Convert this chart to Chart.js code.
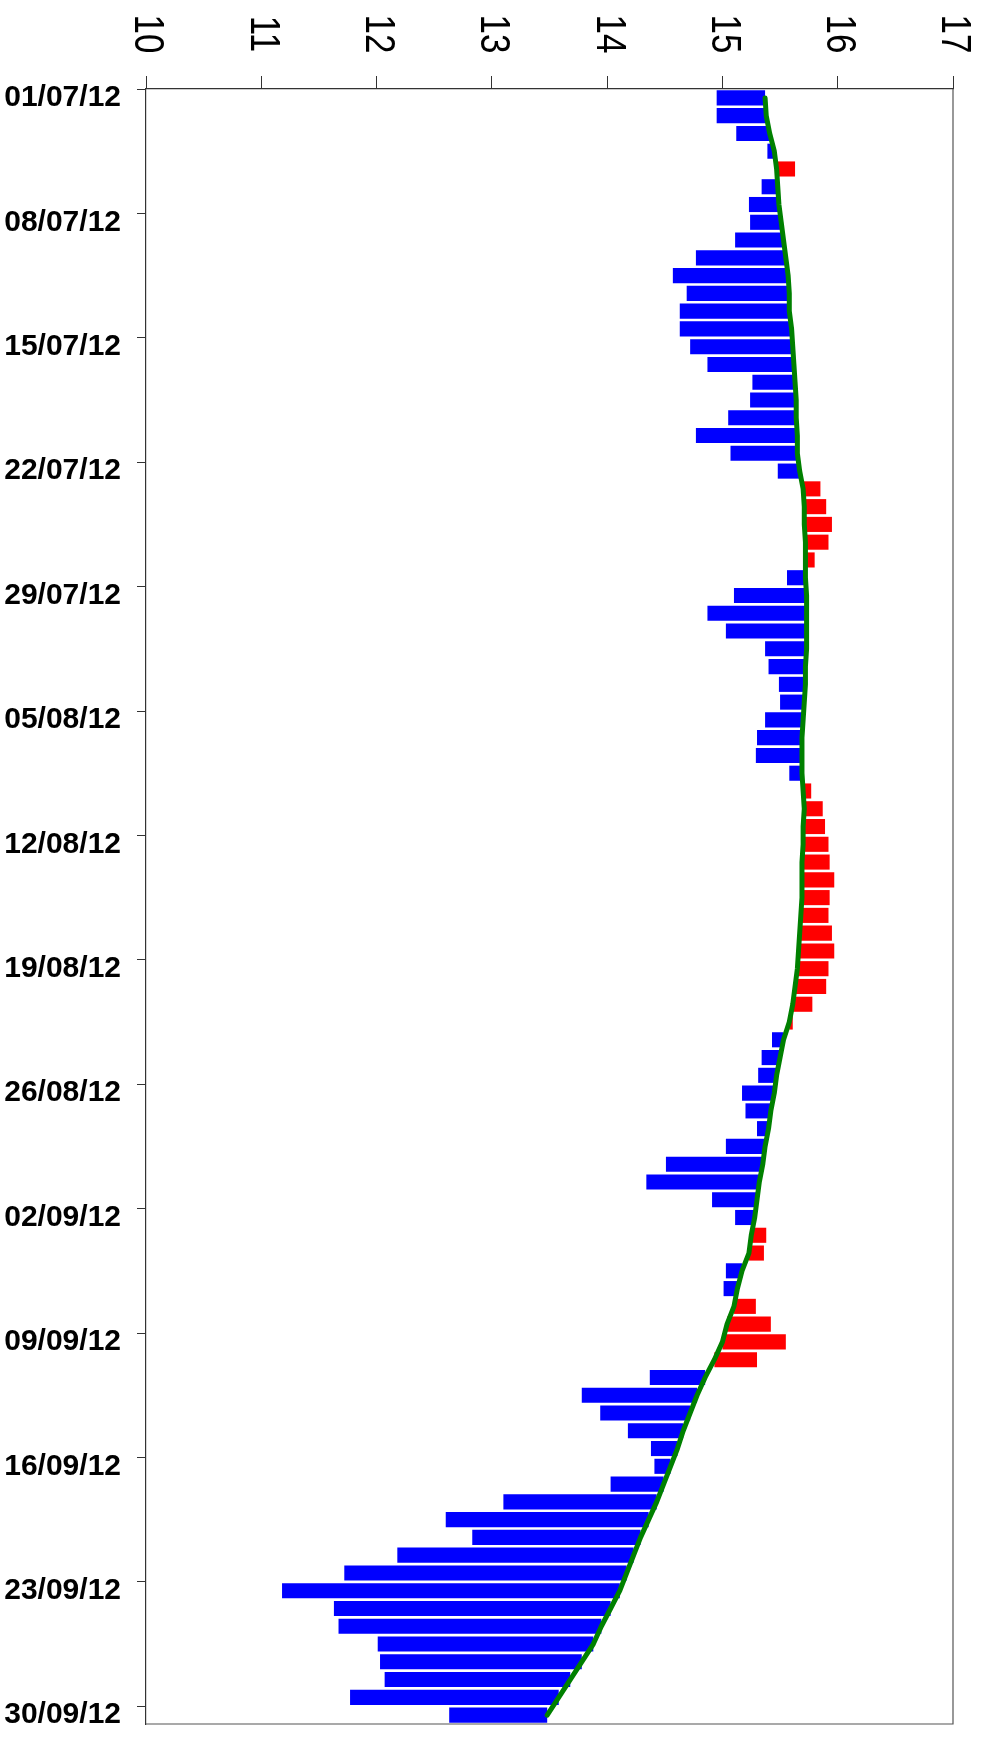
<!DOCTYPE html>
<html>
<head>
<meta charset="utf-8">
<script src="https://cdn.jsdelivr.net/npm/chart.js@4.4.1/dist/chart.umd.min.js"></script>
<style>
  html, body { margin: 0; padding: 0; background: #ffffff; }
  #wrap { width: 982px; height: 1758px; position: relative; }
</style>
</head>
<body>
<div id="wrap"><canvas id="c" width="982" height="1758"></canvas></div>
<script>
// ---- DATA ----
// Day categories: 01/07/12 .. 30/09/12 (92 days)
const days = [];
(function () {
  const d = new Date(2012, 6, 1);
  for (let i = 0; i < 92; i++) {
    const dd = String(d.getDate()).padStart(2, '0');
    const mm = String(d.getMonth() + 1).padStart(2, '0');
    days.push(dd + '/' + mm + '/12');
    d.setDate(d.getDate() + 1);
  }
})();

// Labelled date ticks
const dateTickLabels = ['01/07/12','08/07/12','15/07/12','22/07/12','29/07/12','05/08/12',
  '12/08/12','19/08/12','26/08/12','02/09/12','09/09/12','16/09/12','23/09/12','30/09/12'];

// Value axis ticks
const valueTicks = [10, 11, 12, 13, 14, 15, 16, 17];

// Reference curve (green line) per day
const baseline = [
  15.37, 15.38, 15.41, 15.45, 15.47, 15.48, 15.49, 15.51, 15.53, 15.55,
  15.57, 15.58, 15.58, 15.60, 15.61, 15.62, 15.63, 15.64, 15.64, 15.65,
  15.65, 15.67, 15.70, 15.71, 15.71, 15.72, 15.72, 15.72, 15.73, 15.73,
  15.73, 15.73, 15.72, 15.72, 15.71, 15.70, 15.69, 15.69, 15.69, 15.70,
  15.71, 15.70, 15.70, 15.69, 15.69, 15.69, 15.68, 15.67, 15.66, 15.65,
  15.63, 15.61, 15.58, 15.53, 15.50, 15.47, 15.45, 15.42, 15.40, 15.37,
  15.35, 15.32, 15.30, 15.28, 15.25, 15.23, 15.17, 15.13, 15.10, 15.04,
  15.00, 14.93, 14.85, 14.78, 14.72, 14.66, 14.61, 14.55, 14.49, 14.43,
  14.36, 14.29, 14.23, 14.17, 14.11, 14.03, 13.95, 13.88, 13.78, 13.68,
  13.58, 13.48
];

// Observed daily values
const observed = [
  14.95, 14.95, 15.12, 15.39, 15.63, 15.34, 15.23, 15.24, 15.11, 14.77,
  14.57, 14.69, 14.63, 14.63, 14.72, 14.87, 15.26, 15.24, 15.05, 14.77,
  15.07, 15.48, 15.85, 15.90, 15.95, 15.92, 15.80, 15.56, 15.10, 14.87,
  15.03, 15.37, 15.40, 15.49, 15.50, 15.37, 15.30, 15.29, 15.58, 15.77,
  15.87, 15.89, 15.92, 15.93, 15.97, 15.93, 15.92, 15.95, 15.97, 15.92,
  15.90, 15.78, 15.61, 15.43, 15.34, 15.31, 15.17, 15.20, 15.30, 15.03,
  14.51, 14.34, 14.91, 15.11, 15.38, 15.36, 15.03, 15.01, 15.29, 15.42,
  15.55, 15.30, 14.37, 13.78, 13.94, 14.18, 14.38, 14.41, 14.03, 13.10,
  12.60, 12.83, 12.18, 11.72, 11.18, 11.63, 11.67, 12.01, 12.03, 12.07,
  11.77, 12.63
];

// ---- CHART ----
const FONT = '"Liberation Sans", Arial, Helvetica, sans-serif';

const topLabelsPlugin = {
  id: 'topLabels',
  afterDraw(chart) {
    const xs = chart.scales.x;
    const ctx = chart.ctx;
    ctx.save();
    ctx.fillStyle = '#000000';
    ctx.font = '38px ' + FONT;
    ctx.textAlign = 'center';
    ctx.textBaseline = 'middle';
    valueTicks.forEach(v => {
      const px = xs.getPixelForValue(v);
      ctx.save();
      ctx.translate(px + 1, 34);
      ctx.rotate(Math.PI / 2);
      ctx.scale(0.92, 1.1);
      ctx.fillText(String(v), 0, 0);
      ctx.restore();
    });
    ctx.restore();
  }
};

const framePlugin = {
  id: 'frame',
  afterDatasetsDraw(chart) {
    const a = chart.chartArea;
    const ctx = chart.ctx;
    ctx.save();
    ctx.strokeStyle = '#555555';
    ctx.lineWidth = 1.2;
    ctx.beginPath();
    ctx.moveTo(a.right, a.top);
    ctx.lineTo(a.right, a.bottom);
    ctx.lineTo(a.left, a.bottom);
    ctx.stroke();
    ctx.restore();
  }
};

new Chart(document.getElementById('c'), {
  data: {
    labels: days,
    datasets: [
      {
        type: 'line',
        label: 'Reference',
        data: baseline,
        borderColor: '#008000',
        borderWidth: 5,
        pointRadius: 0,
        fill: false,
        tension: 0,
        borderCapStyle: 'round',
        borderJoinStyle: 'round',
        order: 0
      },
      {
        type: 'bar',
        label: 'Observed',
        data: observed.map((v, i) => [baseline[i], v]),
        backgroundColor: ctx => {
          const i = ctx.dataIndex;
          return observed[i] < baseline[i] ? '#0000ff' : '#ff0000';
        },
        borderWidth: 0,
        barPercentage: 0.85,
        categoryPercentage: 1.0,
        order: 1
      }
    ]
  },
  options: {
    indexAxis: 'y',
    responsive: false,
    animation: false,
    devicePixelRatio: 1,
    layout: { padding: { left: 0, right: 29, top: 0, bottom: 18 } },
    plugins: {
      legend: { display: false },
      tooltip: { enabled: false },
      title: { display: false }
    },
    scales: {
      x: {
        type: 'linear',
        position: 'top',
        min: 10,
        max: 17,
        ticks: { display: false, stepSize: 1 },
        grid: {
          drawOnChartArea: false,
          drawTicks: true,
          tickLength: 13,
          tickColor: '#333333',
          tickWidth: 1
        },
        border: { display: true, color: '#333333', width: 1.2 },
        afterFit: s => { s.height = 89; }
      },
      y: {
        type: 'category',
        position: 'left',
        offset: true,
        ticks: {
          autoSkip: false,
          padding: 16,
          color: '#000000',
          font: { family: FONT, size: 30, weight: 'bold' },
          callback: function (val, idx) {
            const lab = days[idx];
            return dateTickLabels.includes(lab) ? lab : '';
          }
        },
        grid: {
          offset: true,
          drawOnChartArea: false,
          drawTicks: true,
          tickLength: 9,
          tickWidth: 1,
          tickColor: c => (c.index < days.length && dateTickLabels.includes(days[c.index])) ? '#333333' : 'rgba(0,0,0,0)'
        },
        border: { display: true, color: '#333333', width: 1.2 },
        afterFit: s => { s.width = 146; }
      }
    }
  },
  plugins: [topLabelsPlugin, framePlugin]
});
</script>
</body>
</html>
